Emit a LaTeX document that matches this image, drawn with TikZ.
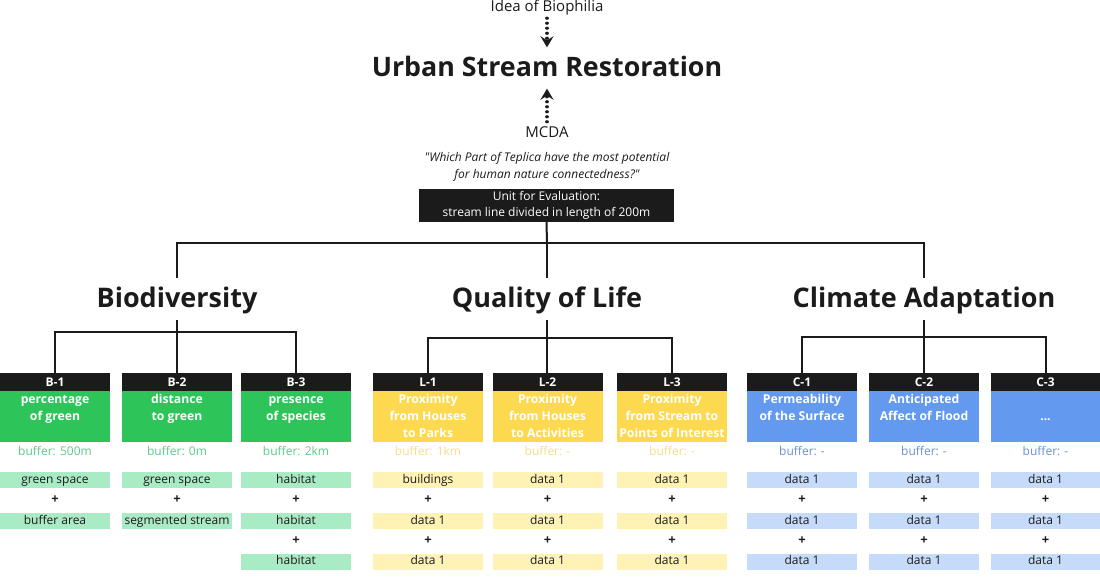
\documentclass[tikz,border=0pt]{standalone}
\usepackage{fontspec}
\setmainfont{Open Sans}
\newfontfamily\qfont{Open Sans}[Ligatures=TeXOff]
\usetikzlibrary{arrows.meta}
\definecolor{ink}{HTML}{1B1B1B}
\definecolor{Bmain}{HTML}{2DC55A}
\definecolor{Blight}{HTML}{A9EBC5}
\definecolor{Btxt}{HTML}{5DC98D}
\definecolor{Lmain}{HTML}{FDD94F}
\definecolor{Llight}{HTML}{FEF3B4}
\definecolor{Ltxt}{HTML}{F5DC8C}
\definecolor{Cmain}{HTML}{6399EE}
\definecolor{Clight}{HTML}{C6DBFA}
\definecolor{Ctxt}{HTML}{6A8FD2}
\newcommand\fs[2]{\fontsize{#1}{#2}\selectfont}
\newcommand\critcol[9]{%
  \node[hdr] (#1h) at (#2,373) {#3};
  \node[bodybox, fill=#5main] (#1) at (#2,391) {};
  \node[bodytxt] (#1t) at (#2,394) {\rule{0pt}{9pt}#4};
  \node[buf, text=#5txt] (#1buf) at (#2,451) {buffer: #6};
  \node[datab, fill=#5light] (#1d1) at (#2,480) {#7};
  \node[plus] (#1p1) at (#2,500) {+};
  \node[datab, fill=#5light] (#1d2) at (#2,521) {#8};
  \if\relax\detokenize{#9}\relax\else
  \node[plus] (#1p2) at (#2,541) {+};
  \node[datab, fill=#5light] (#1d3) at (#2,561.5) {#9};
  \fi
}
\begin{document}
\begin{tikzpicture}[x=1pt,y=-1pt,
  conn/.style={draw=ink, line width=2pt},
  dotarrow/.style={draw=ink, line width=3.2pt, line cap=round, dash pattern=on 0.01pt off 5pt,
    -{Stealth[length=11pt,width=13pt,inset=4pt]}, shorten >=0.5pt},
  hdr/.style={fill=ink, text=white, font=\bfseries\fs{12}{14}, minimum width=110pt,
    minimum height=18pt, anchor=north, inner sep=0pt},
  bodybox/.style={minimum width=110pt, minimum height=51pt, anchor=north, inner sep=0pt},
  bodytxt/.style={anchor=north, align=center, text=white, font=\bfseries\fs{12.2}{17}, inner sep=0pt},
  buf/.style={font=\fs{12}{14}, inner sep=0pt},
  datab/.style={minimum width=110pt, minimum height=16pt, inner sep=0pt, text=ink,
    font=\fs{12}{14}, text height=8.8pt, text depth=2.6pt},
  plus/.style={font=\bfseries\fs{13}{14}, text=ink, inner sep=0pt},
  cat/.style={font=\bfseries\fs{27}{30}, text=ink, text height=29pt, text depth=13pt, inner sep=0pt, anchor=base},
]
\useasboundingbox (0,0) rectangle (1100,579);

\node[font=\fs{15}{17}, text=ink, minimum height=20pt, inner sep=0pt] (idea) at (547,8) {Idea of Biophilia};
\node[font=\bfseries\fs{26.8}{30}, text=ink, text height=28pt, text depth=12pt, inner sep=0pt, anchor=base] (title) at (547,76) {Urban Stream Restoration};
\node[font=\fs{15}{17}, text=ink, minimum height=20pt, inner sep=0pt] (mcda) at (547,132) {MCDA};
\draw[dotarrow] (idea) -- (title);
\draw[dotarrow] (mcda) -- (title);
\node[font=\qfont\itshape\fs{12}{17}, text=ink, align=center, inner sep=0pt] (question) at (547,166.5)
  {"Which Part of Teplica have the most potential\\for human nature connectedness?"};
\node[fill=ink, text=white, font=\fs{12}{16}, align=center, minimum width=255pt, minimum height=33pt, inner sep=0pt] (unit) at (546.5,205.5)
  {Unit for Evaluation:\\stream line divided in length of 200m};

\node[cat] (catB) at (177,307) {Biodiversity};
\node[cat] (catQ) at (547,307) {Quality of Life};
\node[cat] (catC) at (924,307) {Climate Adaptation};

\coordinate (j0) at (547,243);
\draw[conn] (unit.south) -- (j0);
\draw[conn] (catB.north) |- (j0) -| (catC.north);
\draw[conn] (j0) -- (catQ.north);

\critcol{B1}{55}{B-1}{percentage\\of green}{B}{500m}{green space}{buffer area}{}
\critcol{B2}{177}{B-2}{distance\\to green}{B}{0m}{green space}{segmented stream}{}
\critcol{B3}{296}{B-3}{presence\\of species}{B}{2km}{habitat}{habitat}{habitat}
\critcol{L1}{428}{L-1}{Proximity\\from Houses\\to Parks}{L}{1km}{buildings}{data 1}{data 1}
\critcol{L2}{547.5}{L-2}{Proximity\\from Houses\\to Activities}{L}{-}{data 1}{data 1}{data 1}
\critcol{L3}{672}{L-3}{Proximity\\from Stream to\\Points of Interest}{L}{-}{data 1}{data 1}{data 1}
\critcol{C1}{802}{C-1}{Permeability\\of the Surface}{C}{-}{data 1}{data 1}{data 1}
\critcol{C2}{924}{C-2}{Anticipated\\Affect of Flood}{C}{-}{data 1}{data 1}{data 1}
\critcol{C3}{1045.5}{C-3}{\mbox{}\\...}{C}{-}{data 1}{data 1}{data 1}

\coordinate (jB) at (177,332);
\draw[conn] (catB.south) -- (jB);
\draw[conn] (B1h.north) |- (jB) -| (B3h.north);
\draw[conn] (jB) -- (B2h.north);

\coordinate (jQ) at (547,338);
\draw[conn] (catQ.south) -- (jQ);
\draw[conn] (L1h.north) |- (jQ) -| (L3h.north);
\draw[conn] (jQ) -- (jQ |- L2h.north);

\coordinate (jC) at (924,337);
\draw[conn] (catC.south) -- (jC);
\draw[conn] (C1h.north) |- (jC) -| (C3h.north);
\draw[conn] (jC) -- (C2h.north);
\end{tikzpicture}
\end{document}
